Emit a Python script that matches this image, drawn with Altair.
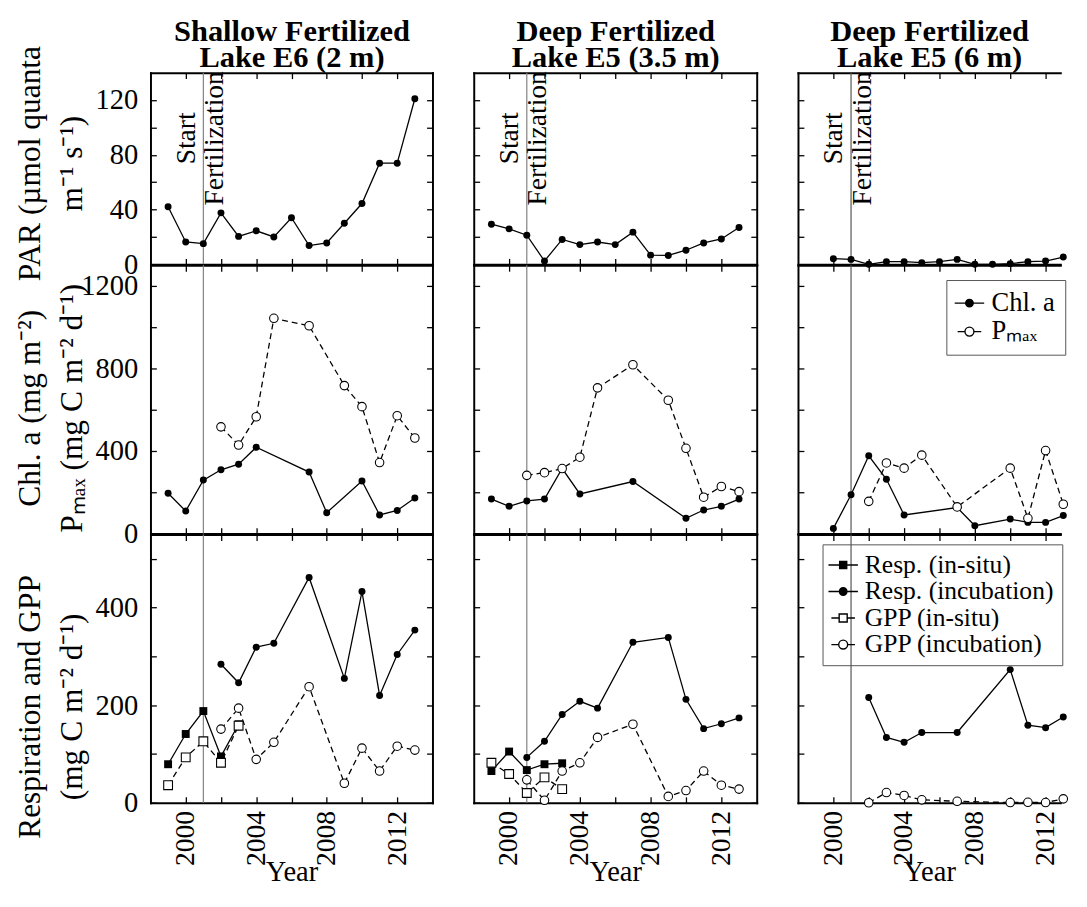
import altair as alt
import pandas as pd

FONT = "Liberation Serif"

# ---------------- text ----------------
COLUMN_TITLES = [["Shallow Fertilized", "Lake E6 (2 m)"],
                 ["Deep Fertilized", "Lake E5 (3.5 m)"],
                 ["Deep Fertilized", "Lake E5 (6 m)"]]
ROW_TITLES = [["PAR (µmol quanta", "m⁻¹ s⁻¹)"],
              ["Chl. a (mg m⁻²)", "Pₘₐₓ (mg C m⁻² d⁻¹)"],
              ["Respiration and GPP", "(mg C m⁻² d⁻¹)"]]
X_TITLE = "Year"
ANNOT_TEXT = ["Start\nFertilization"]
ANNOT_Y = [92]
FERT_YEAR = [2001]

# ---------------- tick values ----------------
X_TICKS = [2000, 2002, 2004, 2006, 2008, 2010, 2012]
Y_TICKS = [[0, 20, 40, 60, 80, 100, 120],
           [0, 200, 400, 600, 800, 1000, 1200],
           [0, 100, 200, 300, 400, 500]]
Y_LABEL_EVERY = [40, 400, 200]
Y_MAX = [140, 1300, 550]

# ---------------- data: PAR ----------------
PAR_YEARS_E6 = [1999, 2000, 2001, 2002, 2003, 2004, 2005, 2006, 2007, 2008, 2009, 2010, 2011, 2012, 2013]
PAR_E6 = [42.0, 16.3, 15.1, 37.6, 20.4, 24.5, 20.0, 34.0, 13.7, 15.6, 30.0, 44.4, 73.9, 73.9, 121.0]
PAR_YEARS_E5S = [1999, 2000, 2001, 2002, 2003, 2004, 2005, 2006, 2007, 2008, 2009, 2010, 2011, 2012, 2013]
PAR_E5S = [29.3, 25.9, 21.3, 2.4, 18.2, 14.4, 16.3, 14.4, 23.5, 6.7, 6.5, 10.3, 15.6, 18.5, 26.9]
PAR_YEARS_E5D = [2000, 2001, 2002, 2003, 2004, 2005, 2006, 2007, 2008, 2009, 2010, 2011, 2012, 2013]
PAR_E5D = [4.1, 3.6, 0.0, 1.9, 1.9, 1.2, 1.9, 3.6, 0.0, 0.0, 0.5, 1.9, 2.4, 5.3]

# ---------------- data: Chl a / Pmax ----------------
CHL_YEARS_E6 = [1999, 2000, 2001, 2002, 2003, 2004, 2007, 2008, 2010, 2011, 2012, 2013]
CHL_E6 = [195, 109, 259, 309, 336, 418, 298, 101, 255, 90, 112, 172]
PMAX_YEARS_E6 = [2002, 2003, 2004, 2005, 2007, 2009, 2010, 2011, 2012, 2013]
PMAX_E6 = [517, 429, 566, 1043, 1007, 717, 615, 344, 571, 463]

CHL_YEARS_E5S = [1999, 2000, 2001, 2002, 2003, 2004, 2007, 2010, 2011, 2012, 2013]
CHL_E5S = [167, 132, 158, 167, 315, 192, 252, 74, 114, 132, 167]
PMAX_YEARS_E5S = [2001, 2002, 2003, 2004, 2005, 2007, 2009, 2010, 2011, 2012, 2013]
PMAX_E5S = [282, 295, 315, 370, 706, 818, 646, 413, 176, 228, 203]

CHL_YEARS_E5D = [2000, 2001, 2002, 2003, 2004, 2007, 2008, 2010, 2011, 2012, 2013]
CHL_E5D = [25, 188, 377, 263, 90, 126, 38, 70, 54, 54, 87]
PMAX_YEARS_E5D = [2002, 2003, 2004, 2005, 2007, 2010, 2011, 2012, 2013]
PMAX_E5D = [156, 342, 317, 380, 129, 317, 74, 402, 142]

# ---------------- data: Respiration / GPP ----------------
INSITU_YEARS = [1999, 2000, 2001, 2002, 2003]
RESP_INSITU_E6 = [79, 141, 188, 95, 161]
GPP_INSITU_E6 = [36, 93, 126, 82, 158]
INC_YEARS_E6 = [2002, 2003, 2004, 2005, 2007, 2009, 2010, 2011, 2012, 2013]
RESP_INC_E6 = [284, 246, 319, 327, 462, 255, 433, 220, 304, 354]
GPP_INC_E6 = [151, 194, 89, 124, 238, 40, 112, 65, 116, 108]

RESP_INSITU_E5S = [65, 105, 67, 79, 81]
GPP_INSITU_E5S = [82, 59, 20, 52, 28]
INC_YEARS_E5S = [2001, 2002, 2003, 2004, 2005, 2007, 2009, 2010, 2011, 2012, 2013]
RESP_INC_E5S = [93, 126, 181, 208, 194, 329, 339, 212, 152, 162, 174]
GPP_INC_E5S = [47, 5, 65, 82, 134, 161, 13, 25, 65, 36, 28]

INC_YEARS_E5D = [2002, 2003, 2004, 2005, 2007, 2010, 2011, 2012, 2013]
RESP_INC_E5D = [216, 134, 124, 144, 144, 273, 159, 154, 176]
GPP_INC_E5D = [0, 21, 15, 6, 3, 0.5, 1, 0.5, 8]

S_PAR = "PAR"
S_CHL = "Chl. a"
S_PMAX = "Pₘₐₓ"
S_RIS = "Resp. (in-situ)"
S_RIN = "Resp. (incubation)"
S_GIS = "GPP (in-situ)"
S_GIN = "GPP (incubation)"

SERIES = [
    (0, 0, S_PAR, PAR_YEARS_E6, PAR_E6),
    (1, 0, S_PAR, PAR_YEARS_E5S, PAR_E5S),
    (2, 0, S_PAR, PAR_YEARS_E5D, PAR_E5D),
    (0, 1, S_CHL, CHL_YEARS_E6, CHL_E6),
    (0, 1, S_PMAX, PMAX_YEARS_E6, PMAX_E6),
    (1, 1, S_CHL, CHL_YEARS_E5S, CHL_E5S),
    (1, 1, S_PMAX, PMAX_YEARS_E5S, PMAX_E5S),
    (2, 1, S_CHL, CHL_YEARS_E5D, CHL_E5D),
    (2, 1, S_PMAX, PMAX_YEARS_E5D, PMAX_E5D),
    (0, 2, S_RIS, INSITU_YEARS, RESP_INSITU_E6),
    (0, 2, S_GIS, INSITU_YEARS, GPP_INSITU_E6),
    (0, 2, S_RIN, INC_YEARS_E6, RESP_INC_E6),
    (0, 2, S_GIN, INC_YEARS_E6, GPP_INC_E6),
    (1, 2, S_RIS, INSITU_YEARS, RESP_INSITU_E5S),
    (1, 2, S_GIS, INSITU_YEARS, GPP_INSITU_E5S),
    (1, 2, S_RIN, INC_YEARS_E5S, RESP_INC_E5S),
    (1, 2, S_GIN, INC_YEARS_E5S, GPP_INC_E5S),
    (2, 2, S_RIN, INC_YEARS_E5D, RESP_INC_E5D),
    (2, 2, S_GIN, INC_YEARS_E5D, GPP_INC_E5D),
]

records = []
for col, row, name, yrs, vals in SERIES:
    for y, v in zip(yrs, vals):
        records.append({"col": col, "row": row, "series": name, "year": y, "value": v})
df = pd.DataFrame(records)
fert_df = pd.DataFrame({"year": FERT_YEAR})
annot_df = pd.DataFrame({"year": FERT_YEAR, "value": ANNOT_Y, "label": ANNOT_TEXT})

# ---------------- styling ----------------
STYLE = {
    S_PAR: dict(dash=False, shape="circle", open=False),
    S_CHL: dict(dash=False, shape="circle", open=False),
    S_PMAX: dict(dash=True, shape="circle", open=True),
    S_RIS: dict(dash=False, shape="square", open=False),
    S_RIN: dict(dash=False, shape="circle", open=False),
    S_GIS: dict(dash=True, shape="square", open=True),
    S_GIN: dict(dash=True, shape="circle", open=True),
}
ROW_SERIES = [[S_PAR], [S_CHL, S_PMAX], [S_RIS, S_RIN, S_GIS, S_GIN]]

# legend symbols: line + marker (unit = 12 px)
P_FC = "M-1.25,0L-0.3,0M0.3,0L1.25,0M-0.32,0A0.32,0.32,0,1,1,0.32,0A0.32,0.32,0,1,1,-0.32,0Z"
P_OC = "M-1,0L-0.38,0M0.38,0L1,0M-0.38,0A0.38,0.38,0,1,1,0.38,0A0.38,0.38,0,1,1,-0.38,0Z"
P_FS = "M-1.25,0L-0.3,0M0.3,0L1.25,0M-0.3,-0.3L0.3,-0.3L0.3,0.3L-0.3,0.3Z"
P_OS = "M-1,0L-0.34,0M0.34,0L1,0M-0.34,-0.34L0.34,-0.34L0.34,0.34L-0.34,0.34Z"
LEGENDS = {
    1: dict(domain=[S_CHL, S_PMAX], shapes=[P_FC, P_OC], fills=["black", "white"],
            x=151, y=15, padding=10, labelOffset=9, fontSize=27),
    2: dict(domain=[S_RIS, S_RIN, S_GIS, S_GIN], shapes=[P_FS, P_FC, P_OS, P_OC],
            fills=["black", "black", "white", "white"], x=25, y=10, padding=8, labelOffset=9,
            fontSize=26),
}

PANEL_W = [287, 288, 267]
PANEL_H = [195, 273, 273]
X_MIN = 1998
X_MAX = [2014, 2014, 1998 + 267 / 18.0]
FERT_COLOR = ["#808080", "#808080", "#555555"]
TICK = 6
TITLE_Y = [92, 145, 175]


def panel(r, c):
    xs = alt.Scale(domain=[X_MIN, X_MAX[c]], nice=False, zero=False)
    ys = alt.Scale(domain=[0, Y_MAX[r]], nice=False, zero=False)
    base = alt.Chart(df).transform_filter(f"datum.col == {c} && datum.row == {r}")

    def X(ax):
        return alt.X("year:Q", scale=xs, axis=ax)

    def Y(ax):
        return alt.Y("value:Q", scale=ys, axis=ax)

    layers = [alt.Chart(fert_df).mark_rule(color=FERT_COLOR[c], strokeWidth=1.2).encode(x=X(None))]

    for s in ROW_SERIES[r]:
        st = STYLE[s]
        kw = dict(color="black", strokeWidth=1.3)
        if st["dash"]:
            kw["strokeDash"] = [6, 4]
        layers.append(base.transform_filter(alt.datum.series == s)
                      .mark_line(**kw).encode(x=X(None), y=Y(None), order="year:Q"))
    for s in ROW_SERIES[r]:
        st = STYLE[s]
        if st["open"]:
            mk = dict(shape=st["shape"], filled=True, fill="white", stroke="black",
                      strokeWidth=1.1, size=75 if st["shape"] == "circle" else 80, opacity=1)
        else:
            mk = dict(shape=st["shape"], filled=True, color="black",
                      size=50 if st["shape"] == "circle" else 65, opacity=1)
        layers.append(base.transform_filter(alt.datum.series == s)
                      .mark_point(**mk).encode(x=X(None), y=Y(None)))

    if r == 0:
        layers.append(alt.Chart(annot_df).mark_text(
            lineBreak="\n", angle=270, align="center", baseline="middle", dy=-17,
            font=FONT, fontSize=28, lineHeight=29, color="black"
        ).encode(x=X(None), y=Y(None), text="label:N"))

    # --- axes: inward ticks ---
    first = (c == 0)
    left_kw = dict(orient="left", offset=-TICK, tickSize=TICK, tickColor="black", tickWidth=1.3,
                   domain=False, grid=False, values=Y_TICKS[r], labels=first, format="d",
                   labelExpr=f"datum.value % {Y_LABEL_EVERY[r]} === 0 ? datum.label : ''",
                   labelFont=FONT, labelFontSize=29, labelColor="black", labelPadding=13,
                   labelOverlap=False, labelFlush=False)
    if first:
        left_kw.update(title=ROW_TITLES[r], titleFont=FONT, titleFontSize=32,
                       titleFontWeight="normal", titleColor="black", titleAngle=270,
                       titleAlign="center", titleBaseline="middle", titleLineHeight=43,
                       titleX=-129, titleY=TITLE_Y[r])
    else:
        left_kw.update(title=None)
    ax_left = alt.Axis(**left_kw)

    bottom_kw = dict(orient="bottom", offset=-TICK, tickSize=TICK, tickColor="black", tickWidth=1.3,
                     domain=False, grid=False, values=X_TICKS, format="d", labels=(r == 2),
                     labelExpr="datum.value % 4 === 0 ? datum.label : ''",
                     labelAngle=270, labelAlign="right", labelBaseline="middle",
                     labelFont=FONT, labelFontSize=28, labelColor="black", labelPadding=8,
                     labelOverlap=False, labelFlush=False)
    if r == 2:
        bottom_kw.update(title=X_TITLE, titleFont=FONT, titleFontSize=29, titleFontWeight="normal",
                         titleColor="black", titleBaseline="alphabetic", titleY=85)
    else:
        bottom_kw.update(title=None)
    ax_bottom = alt.Axis(**bottom_kw)

    top_kw = dict(orient="top", offset=-TICK, tickSize=TICK, tickColor="black", tickWidth=1.3,
                  domain=False, grid=False, values=X_TICKS, labels=False)
    if r == 0:
        top_kw.update(title=COLUMN_TITLES[c], titleFont=FONT, titleFontSize=31,
                      titleFontWeight="bold", titleColor="black", titleLineHeight=26,
                      titleBaseline="alphabetic", titleAlign="center", titleY=-38.5)
    else:
        top_kw.update(title=None)
    ax_top = alt.Axis(**top_kw)
    ax_right = None
    if c < 2:
        ax_right = alt.Axis(orient="right", offset=-TICK, tickSize=TICK, tickColor="black",
                            tickWidth=1.3, domain=False, grid=False, values=Y_TICKS[r],
                            labels=False, title=None)

    dom = dict(ticks=False, labels=False, domain=True, domainColor="black", domainWidth=2,
               domainCap="square", grid=False, title=None)
    d_bottom = alt.Axis(orient="bottom", **dom)
    d_left = alt.Axis(orient="left", **dom)
    d_top = alt.Axis(orient="top", **dom)
    d_right = alt.Axis(orient="right", **dom) if c < 2 else None

    layers.append(base.mark_point(opacity=0).encode(x=X(ax_bottom), y=Y(ax_left)))
    layers.append(base.mark_point(opacity=0).encode(x=X(ax_top), y=Y(ax_right)))
    layers.append(base.mark_point(opacity=0).encode(x=X(d_bottom), y=Y(d_left)))
    layers.append(base.mark_point(opacity=0).encode(x=X(d_top), y=Y(d_right)))

    # --- legend ---
    if c == 2 and r in LEGENDS:
        L = LEGENDS[r]
        leg = alt.Legend(orient="none", legendX=L["x"], legendY=L["y"], title=None,
                         labelFont=FONT, labelFontSize=L["fontSize"], labelColor="black", labelLimit=0,
                         symbolSize=576, symbolStrokeWidth=1.4, symbolStrokeColor="black",
                         symbolOpacity=1, strokeColor="#555555", padding=L["padding"],
                         rowPadding=1, labelOffset=L["labelOffset"], direction="vertical")
        n = len(L["domain"])
        layers.append(base.mark_point(opacity=0, color="black", size=576).encode(
            x=X(None), y=Y(None),
            shape=alt.Shape("series:N", scale=alt.Scale(domain=L["domain"], range=L["shapes"]), legend=leg),
            fill=alt.Fill("series:N", scale=alt.Scale(domain=L["domain"], range=L["fills"]), legend=leg),
            stroke=alt.Stroke("series:N", scale=alt.Scale(domain=L["domain"], range=["black"] * n), legend=leg),
        ))

    return alt.layer(*layers).resolve_axis(x="independent", y="independent").properties(
        width=PANEL_W[c], height=PANEL_H[r])


panels = [panel(r, c) for r in range(3) for c in range(3)]

chart = (alt.concat(*panels, columns=3, spacing={"row": 1, "column": 42},
                    bounds="flush", align="each")
         .resolve_scale(shape="independent", fill="independent", stroke="independent")
         .properties(padding={"left": 5, "top": 0, "right": 0, "bottom": 0})
         .configure_view(stroke=None)
         .configure_axis(grid=False))

chart.save("out.html", embed_options={"renderer": "svg", "actions": False})
